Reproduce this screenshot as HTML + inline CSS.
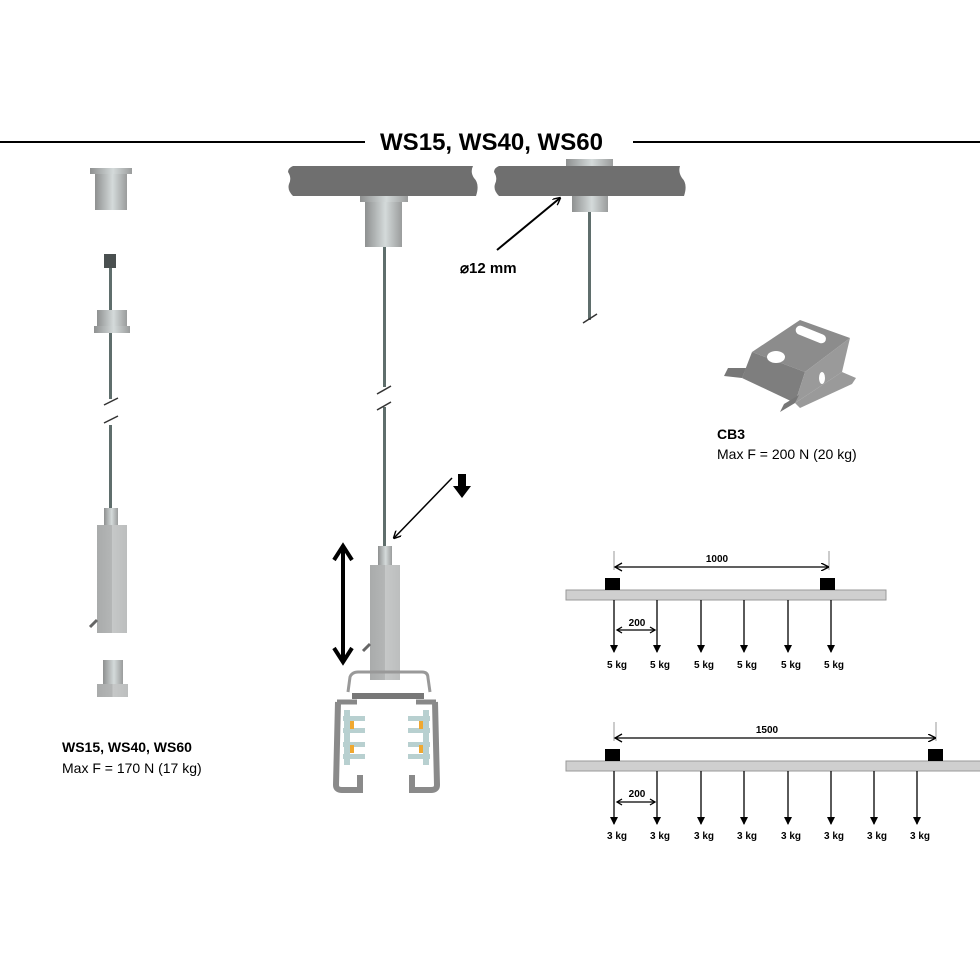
<!DOCTYPE html>
<html><head><meta charset="utf-8"><style>
html,body{margin:0;padding:0;background:#fff}
svg{display:block}
text{font-family:"Liberation Sans",Arial,sans-serif}
</style></head><body>
<svg width="980" height="980" viewBox="0 0 980 980" xmlns="http://www.w3.org/2000/svg">
<defs>
<linearGradient id="m" x1="0" x2="1" y1="0" y2="0">
<stop offset="0" stop-color="#8e9090"/><stop offset="0.55" stop-color="#d4dada"/><stop offset="1" stop-color="#9a9c9c"/>
</linearGradient>
<linearGradient id="b" x1="0" x2="1">
<stop offset="0" stop-color="#a9abab"/><stop offset="0.5" stop-color="#b4b6b6"/><stop offset="0.5" stop-color="#c6c8c8"/><stop offset="1" stop-color="#bcbebe"/>
</linearGradient>
<marker id="ah" markerWidth="8" markerHeight="8" refX="7" refY="4" orient="auto" markerUnits="userSpaceOnUse">
<path d="M0,0 L8,4 L0,8" fill="none" stroke="#000" stroke-width="1.4"/></marker>
<marker id="ad" markerWidth="8" markerHeight="8" refX="4" refY="7" orient="0" markerUnits="userSpaceOnUse">
<path d="M0,0 L4,8 L8,0" fill="#000"/></marker>
</defs>

<line x1="0" y1="142" x2="365" y2="142" stroke="#000" stroke-width="2"/>
<line x1="633" y1="142" x2="980" y2="142" stroke="#000" stroke-width="2"/>
<text x="380" y="150" font-size="24" font-weight="bold" textLength="223" lengthAdjust="spacingAndGlyphs">WS15, WS40, WS60</text>

<!-- left column -->
<rect x="90" y="168" width="42" height="6" fill="url(#m)"/>
<rect x="95" y="174" width="32" height="36" fill="url(#m)"/>
<rect x="104" y="254" width="12" height="14" fill="#4a5050"/>
<rect x="109" y="268" width="3" height="258" fill="#5f6e6c"/>
<rect x="97" y="310" width="30" height="16" fill="url(#m)"/>
<rect x="94" y="326" width="36" height="7" fill="url(#m)"/>
<rect x="103" y="399" width="16" height="26" fill="#fff"/>
<line x1="104" y1="405" x2="118" y2="398" stroke="#333" stroke-width="1.5"/>
<line x1="104" y1="423" x2="118" y2="416" stroke="#333" stroke-width="1.5"/>
<rect x="104" y="508" width="14" height="18" fill="url(#m)"/>
<rect x="97" y="525" width="30" height="108" fill="url(#b)"/>
<line x1="90" y1="627" x2="97" y2="620" stroke="#666" stroke-width="3"/>
<rect x="103" y="660" width="20" height="24" fill="url(#m)"/>
<rect x="97" y="684" width="31" height="13" fill="url(#b)"/>
<text x="62" y="752" font-size="14" font-weight="bold">WS15, WS40, WS60</text>
<text x="62" y="773" font-size="14">Max F = 170 N (17 kg)</text>

<!-- slabs -->
<path d="M293,166 L473,166 Q470,172 474,178 Q480,184 476,196 L293,196 Q287,190 289,184 Q292,178 288,172 Q288,168 293,166 Z" fill="#6f6f6f"/>
<path d="M499,166 L680,166 Q678,172 682,178 Q688,184 684,196 L499,196 Q493,190 495,184 Q498,178 494,172 Q494,168 499,166 Z" fill="#6f6f6f"/>
<rect x="566" y="159" width="47" height="7" fill="url(#m)"/>
<rect x="360" y="196" width="48" height="6" fill="url(#m)"/>
<rect x="365" y="202" width="37" height="45" fill="url(#m)"/>
<rect x="383" y="247" width="3" height="300" fill="#5f6e6c"/>
<rect x="377" y="387" width="16" height="20" fill="#fff"/>
<line x1="377" y1="394" x2="391" y2="386" stroke="#333" stroke-width="1.5"/>
<line x1="377" y1="410" x2="391" y2="402" stroke="#333" stroke-width="1.5"/>
<rect x="572" y="196" width="36" height="16" fill="url(#m)"/>
<rect x="588" y="212" width="3" height="108" fill="#5f6e6c"/>
<line x1="583" y1="323" x2="597" y2="314" stroke="#333" stroke-width="1.5"/>
<line x1="497" y1="250" x2="560" y2="198" stroke="#000" stroke-width="2" marker-end="url(#ah)"/>
<text x="460" y="273" font-size="15" font-weight="bold">⌀12 mm</text>

<!-- middle lower -->
<line x1="452" y1="478" x2="394" y2="538" stroke="#000" stroke-width="1.5" marker-end="url(#ah)"/>
<path d="M458,474 h8 v12 h5 l-9,12 l-9,-12 h5 z" fill="#000"/>
<line x1="343" y1="548" x2="343" y2="660" stroke="#000" stroke-width="4"/>
<path d="M334,560 L343,546 L352,560 M334,648 L343,662 L352,648" fill="none" stroke="#000" stroke-width="4"/>
<rect x="378" y="546" width="14" height="20" fill="url(#m)"/>
<rect x="370" y="565" width="30" height="115" fill="url(#b)"/>
<line x1="363" y1="651" x2="370" y2="644" stroke="#666" stroke-width="3"/>
<path d="M348,692 L350,677 Q352,672 358,672 L422,672 Q428,672 428,678 L430,692" fill="none" stroke="#999" stroke-width="3"/>
<path d="M352,696 L424,696" stroke="#777" stroke-width="6"/>
<path d="M337,702 h20 M416,702 h20" stroke="#888" stroke-width="5"/>
<path d="M338,702 L336,785 Q336,790 342,790 L360,790 L360,775 M435,702 L437,785 Q437,790 431,790 L412,790 L412,775" fill="none" stroke="#8a8a8a" stroke-width="6"/>
<g fill="#b8d0d0">
<rect x="343" y="716" width="22" height="5"/><rect x="343" y="728" width="22" height="5"/><rect x="343" y="742" width="22" height="5"/><rect x="343" y="754" width="22" height="5"/>
<rect x="408" y="716" width="22" height="5"/><rect x="408" y="728" width="22" height="5"/><rect x="408" y="742" width="22" height="5"/><rect x="408" y="754" width="22" height="5"/>
<rect x="344" y="710" width="6" height="55"/><rect x="423" y="710" width="6" height="55"/>
</g>
<g fill="#f0a830"><rect x="350" y="721" width="4" height="8"/><rect x="350" y="745" width="4" height="8"/><rect x="419" y="721" width="4" height="8"/><rect x="419" y="745" width="4" height="8"/></g>

<!-- CB3 bracket (U channel) -->
<path d="M752,352 L800,320 L850,338 L805,372 Z" fill="#8c8c8c"/>
<path d="M752,352 L805,372 L795,403 L742,378 Z" fill="#7e7e7e"/>
<path d="M805,372 L850,338 L842,372 L795,403 Z" fill="#9a9a9a"/>
<path d="M742,378 L724,376 L728,368 L746,368 Z" fill="#777"/>
<path d="M795,403 L780,412 L784,404 L799,395 Z" fill="#777"/>
<path d="M842,372 L856,378 L852,384 L800,408 L795,403 Z" fill="#9a9a9a"/>
<ellipse cx="776" cy="357" rx="9" ry="6" fill="#fff"/>
<rect x="795" y="330" width="32" height="9" rx="4.5" fill="#fff" transform="rotate(22 811 334)"/>
<ellipse cx="822" cy="378" rx="3" ry="6" fill="#fff"/>
<text x="717" y="439" font-size="14" font-weight="bold">CB3</text>
<text x="717" y="459" font-size="14">Max F = 200 N (20 kg)</text>

<g font-size="10" font-weight="bold" text-anchor="middle">
<line x1="614" y1="551" x2="614" y2="570" stroke="#999"/>
<line x1="829" y1="551" x2="829" y2="570" stroke="#999"/>
<line x1="615" y1="567" x2="828" y2="567" stroke="#000" stroke-width="1.3" marker-end="url(#ah)"/>
<path d="M622,563 L615,567 L622,571" fill="none" stroke="#000" stroke-width="1.3"/>
<text x="717" y="562">1000</text>
<rect x="566" y="590" width="320" height="10" fill="#cfcfcf" stroke="#999"/>
<rect x="605" y="578" width="15" height="12" fill="#000"/>
<rect x="820" y="578" width="15" height="12" fill="#000"/>
<g stroke="#000" stroke-width="1.3" marker-end="url(#ad)">
<line x1="614" y1="600" x2="614" y2="652"/><line x1="657" y1="600" x2="657" y2="652"/><line x1="701" y1="600" x2="701" y2="652"/>
<line x1="744" y1="600" x2="744" y2="652"/><line x1="788" y1="600" x2="788" y2="652"/><line x1="831" y1="600" x2="831" y2="652"/>
</g>
<line x1="617" y1="630" x2="655" y2="630" stroke="#000" stroke-width="1.3"/>
<path d="M622,627 L617,630 L622,633 M650,627 L655,630 L650,633" fill="none" stroke="#000" stroke-width="1.3"/>
<text x="637" y="626">200</text>
<text x="617" y="668">5 kg</text><text x="660" y="668">5 kg</text><text x="704" y="668">5 kg</text>
<text x="747" y="668">5 kg</text><text x="791" y="668">5 kg</text><text x="834" y="668">5 kg</text>

<line x1="614" y1="722" x2="614" y2="741" stroke="#999"/>
<line x1="936" y1="722" x2="936" y2="741" stroke="#999"/>
<line x1="615" y1="738" x2="935" y2="738" stroke="#000" stroke-width="1.3" marker-end="url(#ah)"/>
<path d="M622,734 L615,738 L622,742" fill="none" stroke="#000" stroke-width="1.3"/>
<text x="767" y="733">1500</text>
<rect x="566" y="761" width="416" height="10" fill="#cfcfcf" stroke="#999"/>
<rect x="605" y="749" width="15" height="12" fill="#000"/>
<rect x="928" y="749" width="15" height="12" fill="#000"/>
<g stroke="#000" stroke-width="1.3" marker-end="url(#ad)">
<line x1="614" y1="771" x2="614" y2="824"/><line x1="657" y1="771" x2="657" y2="824"/><line x1="701" y1="771" x2="701" y2="824"/>
<line x1="744" y1="771" x2="744" y2="824"/><line x1="788" y1="771" x2="788" y2="824"/><line x1="831" y1="771" x2="831" y2="824"/>
<line x1="874" y1="771" x2="874" y2="824"/><line x1="917" y1="771" x2="917" y2="824"/>
</g>
<line x1="617" y1="802" x2="655" y2="802" stroke="#000" stroke-width="1.3"/>
<path d="M622,799 L617,802 L622,805 M650,799 L655,802 L650,805" fill="none" stroke="#000" stroke-width="1.3"/>
<text x="637" y="797">200</text>
<text x="617" y="839">3 kg</text><text x="660" y="839">3 kg</text><text x="704" y="839">3 kg</text><text x="747" y="839">3 kg</text>
<text x="791" y="839">3 kg</text><text x="834" y="839">3 kg</text><text x="877" y="839">3 kg</text><text x="920" y="839">3 kg</text>
</g>
</svg>
</body></html>
